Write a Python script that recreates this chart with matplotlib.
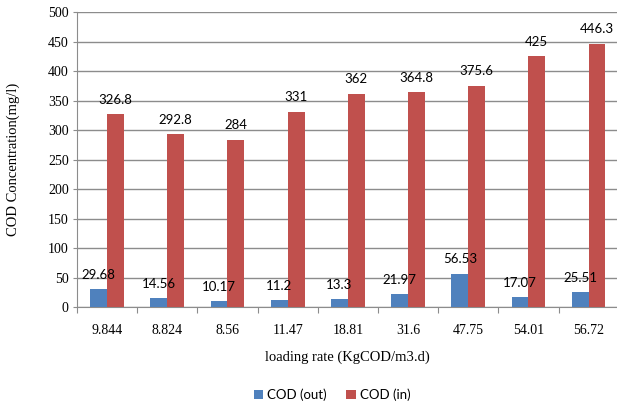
import numpy as np
import matplotlib.pyplot as plt

loading_rates = ["9.844", "8.824", "8.56", "11.47", "18.81", "31.6", "47.75", "54.01", "56.72"]
cod_out = [29.68, 14.56, 10.17, 11.2, 13.3, 21.97, 56.53, 17.07, 25.51]
cod_in = [326.8, 292.8, 284, 331, 362, 364.8, 375.6, 425, 446.3]

BLUE = "#4F81BD"
RED = "#C0504D"
GRID = "#8C8C8C"
SERIF = "Liberation Serif"
SANS = "Lato"


def main():
    fig = plt.figure(figsize=(6.17, 4.05), dpi=100)
    ax = fig.add_axes([0.1248, 0.242, 0.878, 0.728])

    x = np.arange(len(loading_rates))
    width = 0.28

    bars_out = ax.bar(x - width / 2, cod_out, width, color=BLUE, label="COD (out)", zorder=3)
    bars_in = ax.bar(x + width / 2, cod_in, width, color=RED, label="COD (in)", zorder=3)

    for bars, values in [(bars_out, cod_out), (bars_in, cod_in)]:
        for bar, v in zip(bars, values):
            ax.annotate(
                f"{v:g}",
                (bar.get_x() + bar.get_width() / 2, v),
                xytext=(0, 6),
                textcoords="offset points",
                ha="center",
                va="bottom",
                fontsize=9.5,
                family=SANS,
                color="#000000",
            )

    ax.set_xlim(-0.5, len(loading_rates) - 0.5)
    ax.set_ylim(0, 500)
    ax.set_yticks(np.arange(0, 501, 50))
    ax.yaxis.grid(True, color=GRID, linewidth=1, zorder=0)

    ax.set_xticks(np.arange(-0.5, len(loading_rates), 1))
    ax.set_xticklabels([])
    ax.set_xticks(x, minor=True)
    ax.set_xticklabels(loading_rates, minor=True)
    ax.tick_params(axis="x", which="major", length=4, color=GRID, direction="out")
    ax.tick_params(axis="x", which="minor", length=0, pad=12)
    ax.tick_params(axis="y", length=3, color=GRID, pad=3)

    for lbl in ax.get_xticklabels(minor=True) + ax.get_yticklabels():
        lbl.set_family(SERIF)
        lbl.set_fontsize(10)

    for side in ["top", "right"]:
        ax.spines[side].set_visible(False)
    for side in ["left", "bottom"]:
        ax.spines[side].set_color(GRID)

    ax.set_xlabel("loading rate (KgCOD/m3.d)", family=SERIF, fontsize=10.5, labelpad=10)
    ax.set_ylabel("COD Concentration(mg/l)", family=SERIF, fontsize=10.5, labelpad=20)

    fig.legend(
        handles=[bars_out, bars_in],
        loc="center",
        bbox_to_anchor=(0.538, 0.025),
        ncol=2,
        frameon=False,
        prop={"family": SANS, "size": 9.5},
        handlelength=0.7,
        handleheight=0.7,
        handletextpad=0.3,
        columnspacing=1.5,
    )

    fig.savefig("out.png", dpi=100)
    plt.close(fig)


if __name__ == "__main__":
    main()
